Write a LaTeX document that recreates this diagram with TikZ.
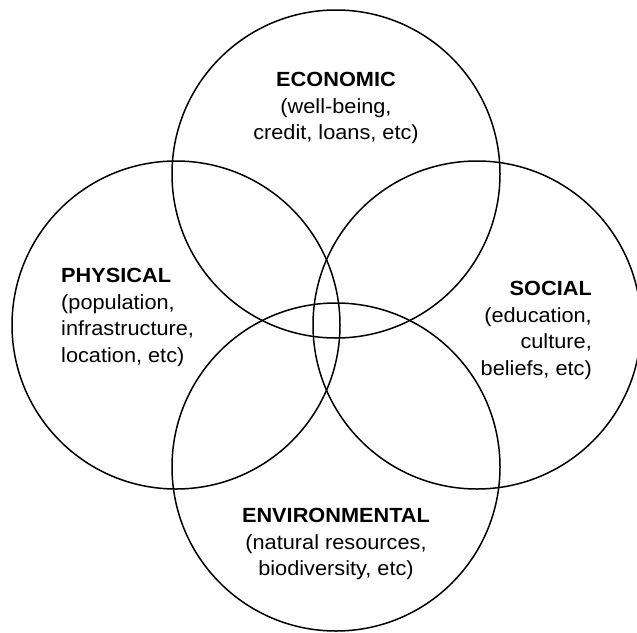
\documentclass[tikz,border=0pt]{standalone}
\usepackage{fontspec}
\setmainfont{Liberation Sans}[FakeStretch=1.06]
\begin{document}
\begin{tikzpicture}[x=1pt,y=-1pt,
  ring/.style={draw=black,line width=1.5pt},
  lbl/.style={inner sep=0pt,font=\fontsize{20.5}{26.5}\selectfont}]
\useasboundingbox (0,0) rectangle (637,632);
\begin{scope}
\clip (0,0) rectangle (637,632);
\draw[ring] (336,174) circle[radius=164];
\draw[ring] (176,325) circle[radius=164];
\draw[ring] (477,325) circle[radius=164];
\draw[ring] (336,467) circle[radius=164];
\end{scope}
\node[lbl,align=center,anchor=north] (eco) at (336,72) {\textbf{ECONOMIC}\\(well-being,\\credit, loans, etc)};
\node[lbl,align=left,anchor=north west] (phy) at (61,268) {\textbf{PHYSICAL}\\(population,\\infrastructure,\\location, etc)};
\node[lbl,align=right,anchor=north east] (soc) at (592,281) {\textbf{SOCIAL}\\(education,\\culture,\\beliefs, etc)};
\node[lbl,align=center,anchor=north] (env) at (336,508) {\textbf{ENVIRONMENTAL}\\(natural resources,\\biodiversity, etc)};
\end{tikzpicture}
\end{document}
